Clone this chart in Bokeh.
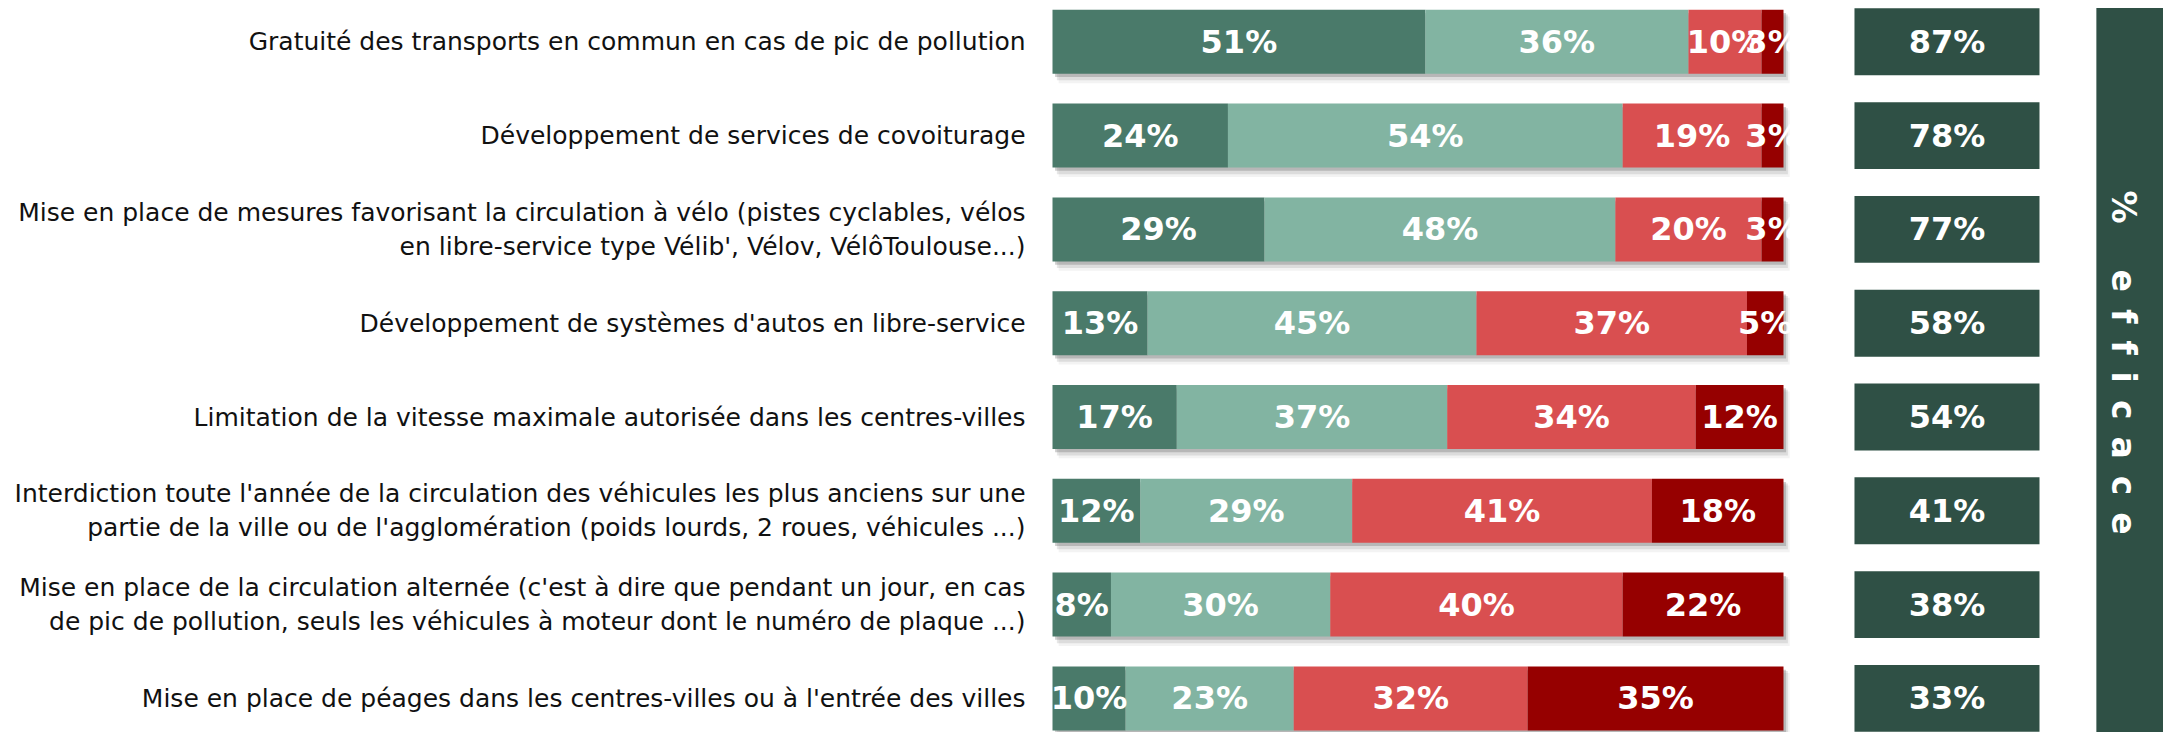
import numpy as np
from bokeh.plotting import figure
from bokeh.models import Range1d
from bokeh.core.properties import value
from bokeh.embed import file_html
from bokeh.resources import INLINE

categories = [
    "Gratuité des transports en commun en cas de pic de pollution",
    "Développement de services de covoiturage",
    "Mise en place de mesures favorisant la circulation à vélo (pistes cyclables, vélos\nen libre-service type Vélib', Vélov, VélôToulouse...)",
    "Développement de systèmes d'autos en libre-service",
    "Limitation de la vitesse maximale autorisée dans les centres-villes",
    "Interdiction toute l'année de la circulation des véhicules les plus anciens sur une\npartie de la ville ou de l'agglomération (poids lourds, 2 roues, véhicules ...)",
    "Mise en place de la circulation alternée (c'est à dire que pendant un jour, en cas\nde pic de pollution, seuls les véhicules à moteur dont le numéro de plaque ...)",
    "Mise en place de péages dans les centres-villes ou à l'entrée des villes",
]
tres_efficace = [51, 24, 29, 13, 17, 12, 8, 10]
assez_efficace = [36, 54, 48, 45, 37, 29, 30, 23]
peu_efficace = [10, 19, 20, 37, 34, 41, 40, 32]
pas_efficace = [3, 3, 3, 5, 12, 18, 22, 35]
total_efficace = [87, 78, 77, 58, 54, 41, 38, 33]
side_title = "% efficace"

series = [tres_efficace, assez_efficace, peu_efficace, pas_efficace]
colors = ["#4a7a6a", "#82b4a2", "#d94f50", "#960000"]
BOX = "#2f5045"

W, H = 2163, 732
KX, KY = 7.31, 93.8
X0, Y0 = 1052, 41.3

p = figure(width=W, height=H, output_backend="svg", toolbar_location=None,
           x_range=Range1d(-X0 / KX, (W - X0) / KX),
           y_range=Range1d((H - Y0) / KY, -Y0 / KY),
           min_border=0, border_fill_color="white", background_fill_color="white")
p.outline_line_color = None
p.xaxis.visible = False
p.yaxis.visible = False
p.xgrid.visible = False
p.ygrid.visible = False

n = len(categories)
ys = np.arange(n)
bar_h = 0.682

# soft drop shadow
for dx, dy, extra, a in [(0.35, 0.035, 0.0, 0.27), (0.6, 0.06, 0.02, 0.14), (0.85, 0.085, 0.03, 0.07)]:
    p.hbar(y=ys + dy, left=dx, right=100 + dx, height=bar_h + extra,
           fill_color="#555555", fill_alpha=a, line_color=None)

vals = np.array(series, dtype=float)
cum = np.cumsum(vals, axis=0)
lefts = cum - vals
for k in range(len(series)):
    p.hbar(y=ys, left=lefts[k], right=cum[k], height=bar_h,
           fill_color=colors[k], line_color=None)

lab_x, lab_y, lab_t = [], [], []
for k in range(len(series)):
    for i in range(n):
        lab_x.append((lefts[k][i] + cum[k][i]) / 2)
        lab_y.append(ys[i])
        lab_t.append(f"{int(vals[k][i])}%")
p.text(x=lab_x, y=lab_y, text=lab_t, text_align="center", text_baseline="middle",
       text_color="white", text_font=value("DejaVu Sans"),
       text_font_style="bold", text_font_size="32px")

# category labels
p.text(x=[-3.69] * n, y=ys, text=categories, text_align="right", text_baseline="middle",
       text_color="#111111", text_font=value("DejaVu Sans"), text_font_size="25px",
       text_line_height=1.17)

# total boxes
box_l, box_r = 109.71, 135.02
p.hbar(y=ys, left=box_l, right=box_r, height=0.713, fill_color=BOX, line_color=None)
p.text(x=[(box_l + box_r) / 2] * n, y=ys, text=[f"{v}%" for v in total_efficace],
       text_align="center", text_baseline="middle", text_color="white",
       text_font=value("DejaVu Sans"), text_font_style="bold", text_font_size="32px")

# side panel
p.quad(left=[142.8], right=[160], top=[-0.36], bottom=[8], fill_color=BOX, line_color=None)
head, word = side_title.split(" ", 1)
spaced = head + "\u00a0" * 4 + "\u00a0\u2006".join(list(word))
p.text(x=[146.5], y=[3.42], text=[spaced], angle=-np.pi / 2, text_align="center",
       text_baseline="middle", text_color="white", text_font=value("DejaVu Sans"),
       text_font_style="bold", text_font_size="33px")

open("out.html", "w").write(file_html(p, INLINE))
